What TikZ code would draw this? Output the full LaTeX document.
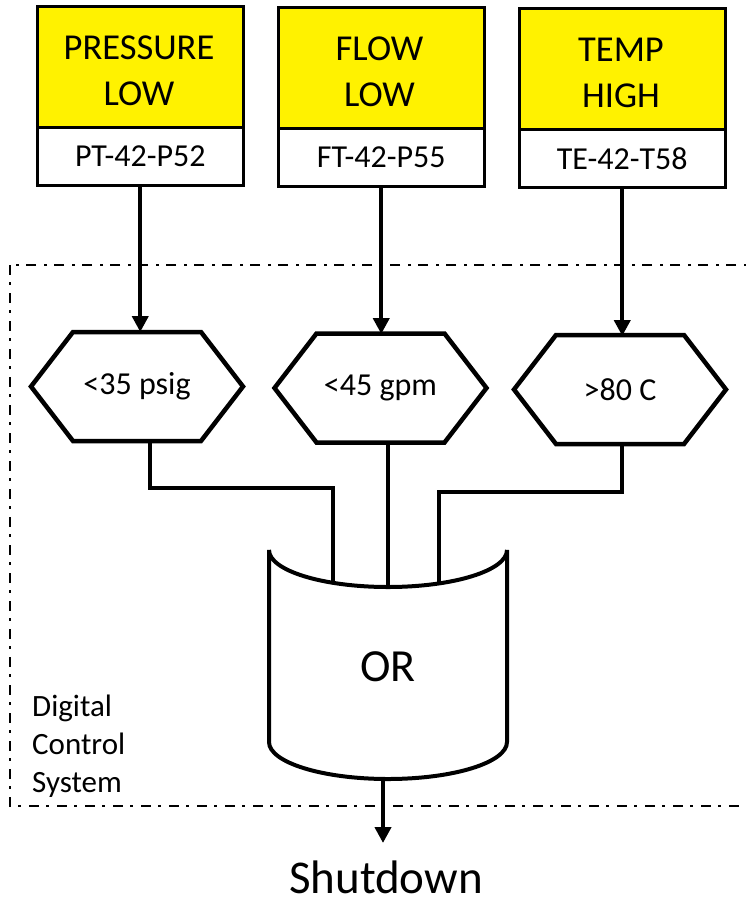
\documentclass[tikz,border=0pt]{standalone}
\usepackage{fontspec}
\setmainfont{Carlito}
\usetikzlibrary{arrows.meta}
\definecolor{ylw}{RGB}{255,242,0}
\begin{document}
\begin{tikzpicture}[x=1pt,y=-1pt,
  ybox/.style={draw, line width=2.5pt, fill=ylw, inner sep=0pt, anchor=north west, minimum width=206pt, minimum height=121pt},
  wbox/.style={draw, line width=2.5pt, fill=white, inner sep=0pt, anchor=north west, minimum width=206pt, minimum height=58pt, font=\fontsize{32}{38}\selectfont},
  big/.style={font=\fontsize{36.5}{46}\selectfont, align=center, inner sep=0pt},
  hexline/.style={line width=4.5pt, line join=miter},
  hextext/.style={font=\fontsize{32}{38}\selectfont},
  conn/.style={line width=4pt},
  arr/.style={conn, -{Triangle[length=16pt,width=16pt]}},
  dcs/.style={line width=2pt, dash pattern=on 10pt off 7pt on 3pt off 8pt},
  hexa/.pic={\draw[hexline] (-106,0) -- (-64,-54.5) -- (64,-54.5) -- (106,0) -- (64,54.5) -- (-64,54.5) -- cycle;}
]
\useasboundingbox (0,0) rectangle (746,903);
\clip (0,0) rectangle (746,903);

% dash-dot system boundary
\draw[dcs] (10,265) rectangle (770,806);
\node[anchor=north west, align=left, inner sep=0pt, font=\fontsize{31}{38}\selectfont] (dcstext) at (32,695) {Digital\\Control\\System};

% sensor boxes
\node[ybox] (y1) at (36,5) {};
\node[wbox] (w1) at (36,126) {PT-42-P52};
\node[big] (t1) at (139,71) {PRESSURE\\LOW};

\node[ybox] (y2) at (277,6) {};
\node[wbox] (w2) at (277,127) {FT-42-P55};
\node[big] (t2) at (379.5,72) {FLOW\\LOW};

\node[ybox] (y3) at (518,7) {};
\node[wbox] (w3) at (518,128) {TE-42-T58};
\node[big] (t3) at (621,73) {TEMP\\HIGH};

% comparators
\pic at (137,386.5) {hexa};
\node[hextext] (h1) at (137,386.5) {<35 psig};
\pic at (380.5,388) {hexa};
\node[hextext] (h2) at (380.5,388) {<45 gpm};
\pic at (620,389.5) {hexa};
\node[hextext] (h3) at (620,389.5) {>80 C};

\coordinate (h1t) at (137,332);
\coordinate (h2t) at (380,334);
\coordinate (h3t) at (620,336);
\coordinate (h1o) at (150,441);
\coordinate (h2o) at (388,442);
\coordinate (h3o) at (622,443);

% OR gate
\draw[line width=4pt, fill=white]
  (269,742) -- (269,550)
  .. controls (269,570.4) and (322.3,587) .. (388,587)
  .. controls (453.7,587) and (507,570.4) .. (507,550)
  -- (507,742)
  .. controls (507,762.4) and (453.7,779) .. (388,779)
  .. controls (322.3,779) and (269,762.4) .. (269,742) -- cycle;
\node[font=\fontsize{46}{54}\selectfont] (or) at (388,667) {OR};
\coordinate (or1) at (333,583);
\coordinate (or2) at (388,587);
\coordinate (or3) at (439,583);
\coordinate (orout) at (383,779);
\coordinate (tip) at (383,843);

% arrows from sensors
\draw[arr] (w1.south) -- (w1.south |- h1t);
\draw[arr] (w2.south) -- (w2.south |- h2t);
\draw[arr] (w3.south) -- (w3.south |- h3t);

% connectors to OR
\draw[conn] (h1o) -- ++(0,47) -| (or1);
\draw[conn] (h2o) -- (or2);
\draw[conn] (h3o) -- ++(0,49) -| (or3);

% output
\node[font=\fontsize{47}{56}\selectfont, anchor=base, inner sep=0pt] (shut) at (386,893) {Shutdown};
\draw[arr] (orout) -- (tip);
\end{tikzpicture}
\end{document}
